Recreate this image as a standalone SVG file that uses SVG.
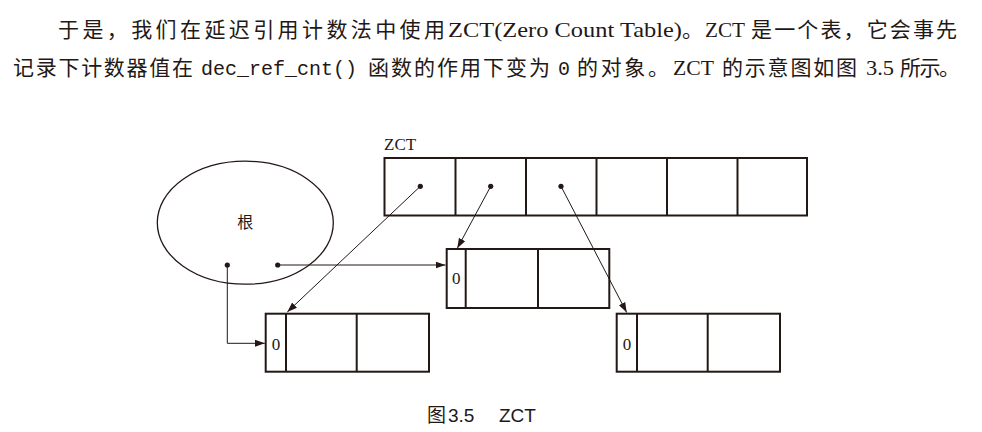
<svg xmlns="http://www.w3.org/2000/svg" width="982" height="432" viewBox="0 0 982 432">
<defs>
<style>
.p{font-family:"Liberation Serif","Noto Sans CJK SC",serif;font-size:21px;fill:#231815}
.l{font-family:"Liberation Serif",serif;font-size:22px;fill:#231815}
.m{font-family:"Liberation Mono",monospace;font-size:20px;fill:#231815}
.lab{font-family:"Liberation Serif",serif;font-size:17px;fill:#231815}
.cj{font-family:"Noto Sans CJK SC",sans-serif;font-size:16px;fill:#231815}
.cap{font-family:"Liberation Sans","Noto Sans CJK SC",sans-serif;font-size:19px;fill:#231815}
.box{fill:#fff;stroke:#231815;stroke-width:2}
.div{stroke:#231815;stroke-width:2}
.con{fill:none;stroke:#231815;stroke-width:1}
.dot{fill:#231815}
</style>
<marker id="ah" viewBox="0 0 10 10" refX="10" refY="5" markerWidth="10" markerHeight="10" markerUnits="userSpaceOnUse" orient="auto">
<path d="M0,1.5 L10,5 L0,8.5 Z" fill="#231815"/>
</marker>
</defs>
<rect width="982" height="432" fill="#fff"/>
<g id="paragraph">
<text class="p" x="58" y="37" textLength="387" lengthAdjust="spacing">于是，我们在延迟引用计数法中使用</text>
<text class="l" x="448" y="37" textLength="234" lengthAdjust="spacingAndGlyphs">ZCT(Zero Count Table)</text>
<text class="p" x="682" y="37">。</text>
<text class="l" x="705" y="37" textLength="40" lengthAdjust="spacingAndGlyphs">ZCT</text>
<text class="p" x="751" y="37" textLength="206" lengthAdjust="spacing">是一个表，它会事先</text>
<text class="p" x="13" y="75" textLength="180" lengthAdjust="spacing">记录下计数器值在</text>
<text class="m" x="201" y="75" textLength="156" lengthAdjust="spacing">dec_ref_cnt()</text>
<text class="p" x="368" y="75" textLength="182" lengthAdjust="spacing">函数的作用下变为</text>
<text class="m" x="558" y="75">0</text>
<text class="p" x="577" y="75" textLength="92" lengthAdjust="spacing">的对象。</text>
<text class="l" x="673" y="75" textLength="41" lengthAdjust="spacingAndGlyphs">ZCT</text>
<text class="p" x="722" y="75" textLength="135" lengthAdjust="spacing">的示意图如图</text>
<text class="l" x="866" y="75" textLength="28" lengthAdjust="spacingAndGlyphs">3.5</text>
<text class="p" x="900" y="75" textLength="60" lengthAdjust="spacing">所示。</text>
</g>
<g id="root">
<ellipse cx="245.3" cy="222.7" rx="88" ry="61.5" fill="none" stroke="#231815" stroke-width="1.3"/>
<text class="cj" x="245.3" y="228" text-anchor="middle">根</text>
<circle class="dot" cx="227.3" cy="265" r="2.6"/>
<circle class="dot" cx="277.7" cy="265" r="2.6"/>
</g>
<g id="zct">
<text class="lab" x="384" y="150">ZCT</text>
<rect class="box" x="384.5" y="158" width="422.5" height="57.5"/>
<line class="div" x1="455.5" y1="158" x2="455.5" y2="215.5"/>
<line class="div" x1="526" y1="158" x2="526" y2="215.5"/>
<line class="div" x1="596.5" y1="158" x2="596.5" y2="215.5"/>
<line class="div" x1="667" y1="158" x2="667" y2="215.5"/>
<line class="div" x1="737.5" y1="158" x2="737.5" y2="215.5"/>
<circle class="dot" cx="420.3" cy="186.3" r="2.6"/>
<circle class="dot" cx="490.7" cy="186.3" r="2.6"/>
<circle class="dot" cx="561" cy="186.3" r="2.6"/>
</g>
<g id="objB">
<rect class="box" x="446.7" y="249" width="162.6" height="59"/>
<line class="div" x1="465.7" y1="249" x2="465.7" y2="308"/>
<line class="div" x1="538" y1="249" x2="538" y2="308"/>
<text class="lab" x="456.2" y="284" text-anchor="middle">0</text>
</g>
<g id="objC">
<rect class="box" x="265.7" y="313.7" width="163.3" height="58"/>
<line class="div" x1="286" y1="313.7" x2="286" y2="371.7"/>
<line class="div" x1="356.7" y1="313.7" x2="356.7" y2="371.7"/>
<text class="lab" x="276" y="349.5" text-anchor="middle">0</text>
</g>
<g id="objD">
<rect class="box" x="616.7" y="313.7" width="163.3" height="58"/>
<line class="div" x1="637" y1="313.7" x2="637" y2="371.7"/>
<line class="div" x1="707.7" y1="313.7" x2="707.7" y2="371.7"/>
<text class="lab" x="627" y="349.5" text-anchor="middle">0</text>
</g>
<g id="connectors">
<line class="con" x1="277.7" y1="265" x2="445.5" y2="265" marker-end="url(#ah)"/>
<polyline class="con" points="227.3,265 227.3,343.3 264.8,343.3" marker-end="url(#ah)"/>
<line class="con" x1="420.3" y1="186.3" x2="287.3" y2="312" marker-end="url(#ah)"/>
<line class="con" x1="490.7" y1="186.3" x2="457.3" y2="248.3" marker-end="url(#ah)"/>
<line class="con" x1="561" y1="186.3" x2="626.7" y2="312.5" marker-end="url(#ah)"/>
</g>
<g id="caption">
<text class="cap" x="427" y="422">图<tspan x="448">3.5</tspan><tspan x="499">ZCT</tspan></text>
</g>
</svg>
